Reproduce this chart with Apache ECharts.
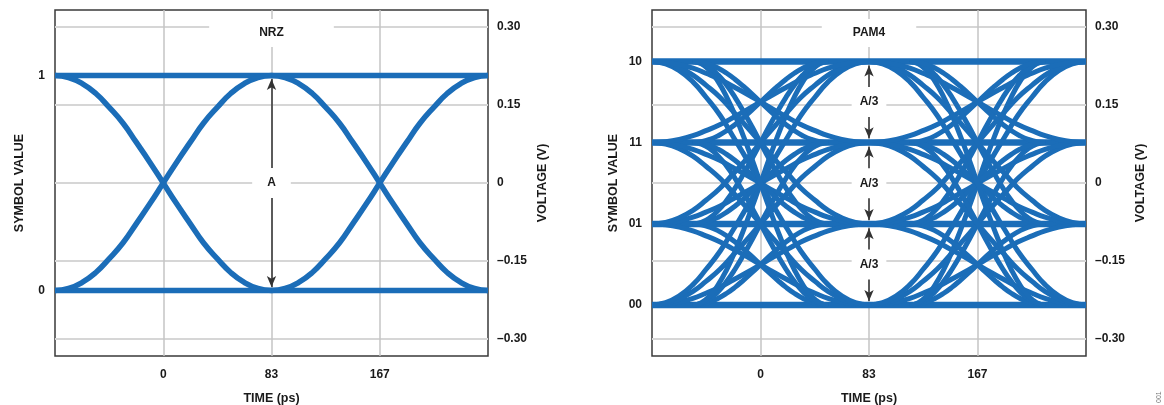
<!DOCTYPE html>
<html><head><meta charset="utf-8">
<script src="https://cdn.jsdelivr.net/npm/echarts@6/dist/echarts.min.js"></script>
<style>html,body{margin:0;padding:0;background:#fff}#c{width:1164px;height:405px}</style>
</head><body><div id="c"></div>
<script>
// ---------------- data ----------------
const timeTicks = [0, 83.5, 167];
const timeTickLabels = ['0', '83', '167'];
const voltageTicks = [-0.30, -0.15, 0, 0.15, 0.30];
const voltageTickLabels = ['\u20130.30', '\u20130.15', '0', '0.15', '0.30'];
const nrzLevels = [-0.207, 0.207];
const nrzSymbols = ['0', '1'];
const pam4Levels = [-0.235, -0.079, 0.078, 0.234];
const pam4Symbols = ['00', '01', '11', '10'];
const crossingTimes = [0, 167];
// edge shapes: time offset from the crossing (ps) and fraction of the step done
const slowEdgeTime = [-83.5, -73, -62.5, -52, -42, -31, -21, -10.5, 0, 10.5, 21, 31, 42, 52, 62.5, 73, 83.5];
const slowEdgeFrac = [0, 0.010, 0.038, 0.084, 0.146, 0.222, 0.309, 0.402, 0.5, 0.598, 0.691, 0.778, 0.854, 0.916, 0.962, 0.990, 1];
const fastEdgeTime = [-52, -45.5, -39, -32.5, -26, -19.5, -13, -6.5, 0, 6.5, 13, 19.5, 26, 32.5, 39, 45.5, 52];
const fastEdgeFrac = [0, 0.010, 0.038, 0.084, 0.146, 0.222, 0.309, 0.402, 0.5, 0.598, 0.691, 0.778, 0.854, 0.916, 0.962, 0.990, 1];
const panelTitles = ['NRZ', 'PAM4'];
const eyeLabelNrz = 'A';
const eyeLabelPam4 = 'A/3';

// ---------------- layout / style ----------------
const T_MIN = -83.5, T_MAX = 250.5, V_MIN = -0.333, V_MAX = 0.333;
const BLUE = '#1b6db8';
const TXT = '#1a1a1a';
const FONT = "'Liberation Sans', Arial, Helvetica, sans-serif";
const ARROW_GAP = 0.007;
const grids = [
  {left: 55, top: 10, width: 433, height: 346},
  {left: 652, top: 10, width: 434, height: 346}
];

function lookup(vals, labels, v) {
  const i = vals.findIndex(x => Math.abs(x - v) < 1e-6);
  return i < 0 ? '' : labels[i];
}

const xAxes = [], yAxes = [], series = [];
grids.forEach((g, gi) => {
  xAxes.push({
    type: 'value', gridIndex: gi, min: T_MIN, max: T_MAX,
    name: 'TIME (ps)', nameLocation: 'middle', nameGap: 36,
    nameTextStyle: {color: TXT, fontWeight: 'bold', fontSize: 12.5, fontFamily: FONT},
    axisLine: {show: false}, axisTick: {show: false, customValues: timeTicks},
    axisLabel: {customValues: timeTicks, margin: 13, color: TXT, fontWeight: 'bold', fontSize: 12, fontFamily: FONT,
      formatter: v => lookup(timeTicks, timeTickLabels, v)},
    splitLine: {show: true, lineStyle: {color: '#c4c4c4', width: 1.5}}
  });
  const levels = gi === 0 ? nrzLevels : pam4Levels;
  const syms = gi === 0 ? nrzSymbols : pam4Symbols;
  yAxes.push({
    type: 'value', gridIndex: gi, position: 'left', min: V_MIN, max: V_MAX,
    name: 'SYMBOL VALUE', nameLocation: 'middle', nameRotate: 90, nameGap: gi === 0 ? 29 : 32,
    nameTextStyle: {color: TXT, fontWeight: 'bold', fontSize: 12.5, fontFamily: FONT},
    axisLine: {show: false}, axisTick: {show: false, customValues: levels},
    axisLabel: {customValues: levels, margin: 10, color: TXT, fontWeight: 'bold', fontSize: 12, fontFamily: FONT,
      formatter: v => lookup(levels, syms, v)},
    splitLine: {show: false}
  });
  yAxes.push({
    type: 'value', gridIndex: gi, position: 'right', min: V_MIN, max: V_MAX,
    name: 'VOLTAGE (V)', nameLocation: 'middle', nameRotate: 90, nameGap: 48,
    nameTextStyle: {color: TXT, fontWeight: 'bold', fontSize: 12.5, fontFamily: FONT},
    axisLine: {show: false}, axisTick: {show: false, customValues: voltageTicks},
    axisLabel: {customValues: voltageTicks, margin: 9, color: TXT, fontWeight: 'bold', fontSize: 12, fontFamily: FONT,
      formatter: v => lookup(voltageTicks, voltageTickLabels, v)},
    splitLine: {show: true, lineStyle: {color: '#d6d6d6', width: 2}}
  });

  const yi = gi * 2 + 1;
  const trace = (data, w) => ({
    type: 'line', xAxisIndex: gi, yAxisIndex: yi, data, symbol: 'none', showSymbol: false,
    smooth: true, silent: true, animation: false, z: 3,
    lineStyle: {color: BLUE, width: w}
  });
  const levelWidth = gi === 0 ? 5.5 : 6.5;
  const edgeWidth = gi === 0 ? 5.5 : 5;
  levels.forEach(L => series.push(trace([[T_MIN, L], [T_MAX, L]], levelWidth)));
  const profiles = gi === 0
    ? [{t: slowEdgeTime, f: slowEdgeFrac}]
    : [{t: slowEdgeTime, f: slowEdgeFrac}, {t: fastEdgeTime, f: fastEdgeFrac}];
  crossingTimes.forEach(c => {
    levels.forEach(a => levels.forEach(b => {
      if (a === b) return;
      profiles.forEach(p => series.push(trace(p.t.map((t, k) => [c + t, a + (b - a) * p.f[k]]), edgeWidth)));
    }));
  });

  // arrows between adjacent levels
  const arrowData = [];
  const labelData = [];
  const gap = ARROW_GAP + (gi === 0 ? 0 : 0.001);
  for (let i = 0; i + 1 < levels.length; i++) {
    const lo = levels[i], hi = levels[i + 1];
    arrowData.push([{coord: [timeTicks[1], lo + gap]}, {coord: [timeTicks[1], hi - gap]}]);
    labelData.push({value: [timeTicks[1], (lo + hi) / 2], name: gi === 0 ? eyeLabelNrz : eyeLabelPam4,
      label: {padding: gi === 0 ? [9, 15] : [9, 8]}});
  }
  labelData.push({value: [timeTicks[1], 0.2885], name: panelTitles[gi],
    label: {padding: gi === 0 ? [8, 50] : [8, 31]}});
  series.push({
    type: 'line', xAxisIndex: gi, yAxisIndex: yi, data: [], silent: true, animation: false, z: 4,
    markLine: {
      silent: true, animation: false, symbol: ['arrow', 'arrow'], symbolSize: [7, 11],
      lineStyle: {color: '#333', width: 1.5, type: 'solid', opacity: 1},
      itemStyle: {color: '#111'}, label: {show: false},
      data: arrowData
    }
  });
  series.push({
    type: 'scatter', xAxisIndex: gi, yAxisIndex: yi, symbolSize: 0, silent: true, animation: false, z: 6,
    itemStyle: {opacity: 1},
    data: labelData,
    label: {show: true, position: 'inside', formatter: p => p.name, color: TXT, fontWeight: 'bold',
      fontSize: 12, fontFamily: FONT, backgroundColor: '#fff', opacity: 1, textBorderWidth: 0}
  });
});

const chart = echarts.init(document.getElementById('c'), null, {renderer: 'canvas'});
chart.setOption({
  animation: false,
  backgroundColor: '#fff',
  grid: grids.map(g => Object.assign({show: true, borderColor: '#3a3a3a', borderWidth: 1.5, backgroundColor: 'transparent',
    containLabel: false, outerBoundsMode: 'none'}, g)),
  xAxis: xAxes,
  yAxis: yAxes,
  series: series,
  graphic: [{
    type: 'text', x: 1156, y: 403, rotation: Math.PI / 2,
    style: {text: '001', fontSize: 7, fill: '#777', fontFamily: FONT}
  }]
});
</script></body></html>
